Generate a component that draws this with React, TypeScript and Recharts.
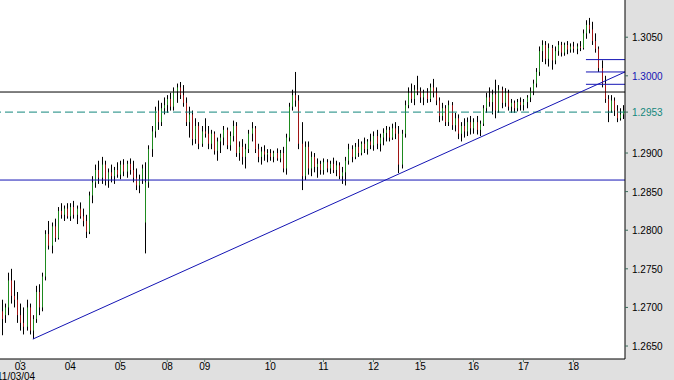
import * as React from 'react';
import { ComposedChart, Bar, XAxis, YAxis, CartesianGrid, ReferenceLine } from 'recharts';

// hourly-ish bars, one array per trading day: [open, high, low, close]
const day02 = [
  [1.2695, 1.2710, 1.2664, 1.2685], [1.2690, 1.2705, 1.2680, 1.2700], [1.2700, 1.2745, 1.2690, 1.2735],
  [1.2735, 1.2750, 1.2705, 1.2715], [1.2715, 1.2735, 1.2700, 1.2710], [1.2710, 1.2720, 1.2680, 1.2690],
];
const day03 = [
  [1.2690, 1.2705, 1.2670, 1.2680], [1.2680, 1.2700, 1.2665, 1.2675], [1.2675, 1.2710, 1.2670, 1.2700],
  [1.2700, 1.2705, 1.2665, 1.2670], [1.2670, 1.2690, 1.2659, 1.2685], [1.2685, 1.2728, 1.2680, 1.2720],
  [1.2720, 1.2730, 1.2690, 1.2700], [1.2700, 1.2745, 1.2695, 1.2740], [1.2740, 1.2800, 1.2735, 1.2795],
  [1.2795, 1.2812, 1.2775, 1.2780], [1.2780, 1.2810, 1.2770, 1.2805], [1.2805, 1.2815, 1.2785, 1.2790],
  [1.2790, 1.2830, 1.2788, 1.2825], [1.2825, 1.2835, 1.2815, 1.2820], [1.2820, 1.2832, 1.2812, 1.2828],
  [1.2828, 1.2835, 1.2815, 1.2818],
];
const day04 = [
  [1.2818, 1.2835, 1.2812, 1.2830], [1.2830, 1.2838, 1.2815, 1.2820], [1.2820, 1.2832, 1.2808, 1.2828],
  [1.2828, 1.2836, 1.2815, 1.2818], [1.2818, 1.2828, 1.2805, 1.2812], [1.2812, 1.2820, 1.2790, 1.2798],
  [1.2798, 1.2850, 1.2795, 1.2845], [1.2845, 1.2870, 1.2835, 1.2862], [1.2862, 1.2885, 1.2855, 1.2878],
  [1.2878, 1.2890, 1.2860, 1.2868], [1.2868, 1.2895, 1.2860, 1.2885], [1.2885, 1.2890, 1.2858, 1.2865],
  [1.2865, 1.2880, 1.2855, 1.2875], [1.2875, 1.2885, 1.2862, 1.2870], [1.2870, 1.2882, 1.2860, 1.2878],
  [1.2878, 1.2888, 1.2868, 1.2872],
];
const day05 = [
  [1.2872, 1.2890, 1.2866, 1.2885], [1.2885, 1.2892, 1.2870, 1.2876], [1.2876, 1.2890, 1.2868, 1.2886],
  [1.2886, 1.2893, 1.2872, 1.2878], [1.2878, 1.2890, 1.2862, 1.2868], [1.2868, 1.2880, 1.2852, 1.2858],
  [1.2858, 1.2872, 1.2848, 1.2866], [1.2866, 1.2885, 1.2860, 1.2880], [1.2810, 1.2888, 1.2770, 1.2862],
  [1.2862, 1.2910, 1.2855, 1.2905], [1.2905, 1.2935, 1.2895, 1.2928], [1.2928, 1.2960, 1.2920, 1.2955],
  [1.2955, 1.2968, 1.2930, 1.2940], [1.2940, 1.2965, 1.2935, 1.2958], [1.2958, 1.2972, 1.2950, 1.2962],
];
const day08 = [
  [1.2962, 1.2975, 1.2952, 1.2970], [1.2970, 1.2978, 1.2955, 1.2960], [1.2960, 1.2985, 1.2955, 1.2980],
  [1.2980, 1.2990, 1.2965, 1.2985], [1.2985, 1.2992, 1.2970, 1.2975], [1.2975, 1.2988, 1.2960, 1.2965],
  [1.2965, 1.2972, 1.2935, 1.2940], [1.2940, 1.2960, 1.2920, 1.2950], [1.2950, 1.2955, 1.2910, 1.2918],
  [1.2918, 1.2945, 1.2912, 1.2935], [1.2935, 1.2940, 1.2905, 1.2912], [1.2912, 1.2935, 1.2908, 1.2928],
];
const day09 = [
  [1.2928, 1.2945, 1.2920, 1.2925], [1.2925, 1.2935, 1.2905, 1.2912], [1.2912, 1.2930, 1.2905, 1.2925],
  [1.2925, 1.2928, 1.2898, 1.2903], [1.2903, 1.2920, 1.2890, 1.2915], [1.2915, 1.2925, 1.2900, 1.2920],
  [1.2920, 1.2935, 1.2910, 1.2930], [1.2930, 1.2933, 1.2905, 1.2910], [1.2910, 1.2928, 1.2903, 1.2922],
  [1.2922, 1.2942, 1.2915, 1.2935], [1.2935, 1.2940, 1.2895, 1.2900], [1.2900, 1.2915, 1.2890, 1.2908],
  [1.2908, 1.2918, 1.2885, 1.2895], [1.2895, 1.2912, 1.2880, 1.2905], [1.2905, 1.2930, 1.2900, 1.2925],
  [1.2925, 1.2940, 1.2915, 1.2932], [1.2932, 1.2935, 1.2900, 1.2905], [1.2905, 1.2912, 1.2888, 1.2895],
  [1.2895, 1.2908, 1.2885, 1.2902], [1.2902, 1.2910, 1.2890, 1.2898], [1.2898, 1.2905, 1.2888, 1.2900],
];
const day10 = [
  [1.2900, 1.2905, 1.2890, 1.2895], [1.2895, 1.2903, 1.2888, 1.2900], [1.2900, 1.2906, 1.2890, 1.2893],
  [1.2893, 1.2904, 1.2888, 1.2900], [1.2900, 1.2908, 1.2875, 1.2880], [1.2880, 1.2925, 1.2872, 1.2920],
  [1.2920, 1.2965, 1.2915, 1.2960], [1.2960, 1.2982, 1.2955, 1.2975], [1.2975, 1.3005, 1.2960, 1.2968],
  [1.2968, 1.2975, 1.2905, 1.2912], [1.2912, 1.2940, 1.2852, 1.2870], [1.2870, 1.2915, 1.2865, 1.2908],
  [1.2908, 1.2915, 1.2872, 1.2880], [1.2880, 1.2902, 1.2870, 1.2895], [1.2895, 1.2900, 1.2875, 1.2882],
  [1.2882, 1.2893, 1.2868, 1.2886], [1.2886, 1.2890, 1.2872, 1.2878],
];
const day11 = [
  [1.2878, 1.2893, 1.2872, 1.2888], [1.2888, 1.2892, 1.2875, 1.2880], [1.2880, 1.2890, 1.2873, 1.2886],
  [1.2886, 1.2894, 1.2874, 1.2878], [1.2878, 1.2890, 1.2870, 1.2884], [1.2884, 1.2888, 1.2866, 1.2870],
  [1.2870, 1.2882, 1.2860, 1.2875], [1.2875, 1.2895, 1.2858, 1.2890], [1.2890, 1.2912, 1.2885, 1.2905],
  [1.2905, 1.2910, 1.2888, 1.2895], [1.2895, 1.2913, 1.2892, 1.2908], [1.2908, 1.2918, 1.2895, 1.2900],
  [1.2900, 1.2915, 1.2897, 1.2912], [1.2912, 1.2920, 1.2900, 1.2905], [1.2905, 1.2918, 1.2898, 1.2915],
  [1.2915, 1.2925, 1.2905, 1.2910],
];
const day12 = [
  [1.2910, 1.2928, 1.2903, 1.2922], [1.2922, 1.2930, 1.2905, 1.2912], [1.2912, 1.2925, 1.2902, 1.2920],
  [1.2920, 1.2932, 1.2910, 1.2926], [1.2926, 1.2935, 1.2915, 1.2930], [1.2930, 1.2934, 1.2915, 1.2920],
  [1.2920, 1.2938, 1.2917, 1.2932], [1.2932, 1.2940, 1.2918, 1.2925], [1.2925, 1.2935, 1.2874, 1.2885],
  [1.2885, 1.2930, 1.2880, 1.2925], [1.2925, 1.2968, 1.2920, 1.2962], [1.2962, 1.2985, 1.2958, 1.2978],
  [1.2978, 1.2990, 1.2965, 1.2970], [1.2970, 1.2988, 1.2962, 1.2982], [1.2982, 1.3000, 1.2975, 1.2980],
];
const day15 = [
  [1.2980, 1.2985, 1.2965, 1.2972], [1.2972, 1.2982, 1.2962, 1.2978], [1.2978, 1.2984, 1.2965, 1.2970],
  [1.2970, 1.2990, 1.2966, 1.2985], [1.2985, 1.2996, 1.2972, 1.2978], [1.2978, 1.2985, 1.2962, 1.2968],
  [1.2968, 1.2972, 1.2940, 1.2948], [1.2948, 1.2965, 1.2942, 1.2958], [1.2958, 1.2962, 1.2935, 1.2940],
  [1.2940, 1.2968, 1.2935, 1.2962], [1.2962, 1.2966, 1.2930, 1.2936], [1.2936, 1.2952, 1.2928, 1.2945],
  [1.2945, 1.2950, 1.2918, 1.2925], [1.2925, 1.2940, 1.2915, 1.2935], [1.2935, 1.2945, 1.2920, 1.2928],
  [1.2928, 1.2946, 1.2922, 1.2940], [1.2940, 1.2948, 1.2924, 1.2932],
];
const day16 = [
  [1.2932, 1.2945, 1.2925, 1.2940], [1.2940, 1.2948, 1.2924, 1.2930], [1.2930, 1.2942, 1.2922, 1.2938],
  [1.2938, 1.2962, 1.2935, 1.2958], [1.2958, 1.2978, 1.2952, 1.2972], [1.2972, 1.2985, 1.2960, 1.2966],
  [1.2966, 1.2982, 1.2950, 1.2976], [1.2976, 1.2995, 1.2945, 1.2955], [1.2955, 1.2988, 1.2952, 1.2982],
  [1.2982, 1.2986, 1.2958, 1.2965], [1.2965, 1.2984, 1.2960, 1.2978], [1.2978, 1.2982, 1.2955, 1.2960],
  [1.2960, 1.2970, 1.2952, 1.2965], [1.2965, 1.2968, 1.2952, 1.2958], [1.2958, 1.2970, 1.2954, 1.2966],
  [1.2966, 1.2972, 1.2955, 1.2962],
];
const day17 = [
  [1.2962, 1.2970, 1.2955, 1.2966], [1.2966, 1.2975, 1.2958, 1.2972], [1.2972, 1.2985, 1.2966, 1.2980],
  [1.2980, 1.2995, 1.2975, 1.2990], [1.2990, 1.3010, 1.2985, 1.3005], [1.3005, 1.3038, 1.3000, 1.3032],
  [1.3032, 1.3046, 1.3018, 1.3040], [1.3040, 1.3045, 1.3015, 1.3022], [1.3022, 1.3042, 1.3012, 1.3036],
  [1.3036, 1.3040, 1.3008, 1.3020], [1.3020, 1.3038, 1.3015, 1.3032], [1.3032, 1.3045, 1.3026, 1.3040],
  [1.3040, 1.3044, 1.3025, 1.3030], [1.3030, 1.3043, 1.3026, 1.3040], [1.3040, 1.3045, 1.3028, 1.3034],
  [1.3034, 1.3042, 1.3030, 1.3038],
];
const day18 = [
  [1.3038, 1.3044, 1.3030, 1.3035], [1.3035, 1.3042, 1.3028, 1.3038], [1.3038, 1.3045, 1.3032, 1.3036],
  [1.3036, 1.3060, 1.3034, 1.3055], [1.3055, 1.3072, 1.3048, 1.3066], [1.3066, 1.3075, 1.3055, 1.3060],
  [1.3060, 1.3070, 1.3040, 1.3045], [1.3045, 1.3055, 1.3030, 1.3035], [1.3035, 1.3038, 1.3005, 1.3010],
  [1.3010, 1.3020, 1.2985, 1.2990], [1.2990, 1.3000, 1.2965, 1.2970], [1.2970, 1.2975, 1.2940, 1.2955],
  [1.2955, 1.2975, 1.2952, 1.2968], [1.2968, 1.2972, 1.2948, 1.2955], [1.2955, 1.2962, 1.2940, 1.2945],
  [1.2945, 1.2958, 1.2942, 1.2950], [1.2950, 1.2962, 1.2944, 1.2955],
];

const days = [day02, day03, day04, day05, day08, day09, day10, day11, day12, day15, day16, day17, day18];
const dayLabels = ['', '03', '04', '05', '08', '09', '10', '11', '12', '15', '16', '17', '18'];

const yTicks = [1.265, 1.27, 1.275, 1.28, 1.285, 1.29, 1.2953, 1.3, 1.305];
const lastPrice = 1.2953;
const resistance = 1.2979;
const support = 1.2865;
const trendStart = { bar: 10, price: 1.2659 };
const trendEnd = { price: 1.3005 };
const shortLevels = [1.3021, 1.3005, 1.2989];

const data: any[] = [];
const tickIdx: number[] = [];
const tickText: Record<number, string> = {};
days.forEach((bars, d) => {
  if (dayLabels[d]) {
    tickIdx.push(data.length);
    tickText[data.length] = dayLabels[d];
  }
  bars.forEach(([open, high, low, close]) => {
    data.push({ i: data.length, open, high, low, close });
  });
});
const lastIdx = data.length - 1;

const GREEN = '#1e8a1e';
const RED = '#a01414';
const TEAL = '#13877c';
const BLUE = '#1414b4';
const FONT = '"Liberation Sans", Arial, sans-serif';

const OhlcShape = (props: any) => {
  const { x, y, width, height, payload } = props;
  if (!payload) return null;
  const top = Math.min(y, y + height);
  const h = Math.abs(height);
  const cx = Math.round(x + width / 2);
  const span = payload.high - payload.low || 1;
  const py = (v: number) => top + ((payload.high - v) / span) * h;
  const yo = py(payload.open);
  const yc = py(payload.close);
  const up = payload.close >= payload.open;
  return (
    <g>
      <rect x={cx} y={top} width={1} height={Math.max(h, 1)} fill="#000" />
      <rect x={cx} y={Math.min(yo, yc)} width={1} height={Math.max(Math.abs(yc - yo), 1)} fill={up ? GREEN : RED} />
    </g>
  );
};

const YTick = ({ x, y, payload }: any) => {
  const v = payload.value;
  let fill = '#000';
  if (v === lastPrice) fill = TEAL;
  else if (v === 1.3) fill = BLUE;
  return (
    <text x={x} y={y} dy={4} fill={fill} fontSize={10} fontFamily={FONT} textAnchor="start">
      {v.toFixed(4)}
    </text>
  );
};

const XTick = ({ x, y, payload }: any) => (
  <text x={x} y={y} dy={6} fill="#000" fontSize={10} fontFamily={FONT} textAnchor="middle">
    {tickText[payload.value]}
  </text>
);

export default function App() {
  return (
    <div style={{ position: 'relative', width: 674, height: 380, background: '#e0e0e0', overflow: 'hidden' }}>
      <style>{'body{margin:0}'}</style>
      <ComposedChart width={674} height={380} data={data} margin={{ top: 0, right: 0, left: 0, bottom: 0 }}>
        <CartesianGrid fill="#fff" horizontal={false} vertical={false} stroke="none" />
        <XAxis
          dataKey="i"
          type="number"
          domain={[-0.5, lastIdx + 0.5]}
          ticks={tickIdx}
          interval={0}
          height={21}
          tick={<XTick />}
          tickSize={3}
          tickLine={{ stroke: '#5a7a6a' }}
          axisLine={{ stroke: '#000' }}
          allowDataOverflow
        />
        <YAxis
          orientation="right"
          type="number"
          domain={[1.26332, 1.30982]}
          ticks={yTicks}
          interval={0}
          width={49}
          tick={<YTick />}
          tickSize={3}
          tickMargin={4}
          tickLine={{ stroke: '#3a6a5a' }}
          axisLine={{ stroke: '#000' }}
          allowDataOverflow
        />
        <ReferenceLine y={support} stroke={BLUE} strokeWidth={1} />
        <ReferenceLine y={resistance} stroke="#000" strokeWidth={1} />
        <ReferenceLine y={lastPrice} stroke={TEAL} strokeDasharray="8 4" strokeWidth={1} />
        <ReferenceLine
          segment={[{ x: trendStart.bar, y: trendStart.price }, { x: lastIdx + 0.5, y: trendEnd.price }]}
          stroke={BLUE}
          strokeWidth={1}
        />
        {shortLevels.map((lv) => (
          <ReferenceLine key={lv} segment={[{ x: 187, y: lv }, { x: lastIdx + 0.5, y: lv }]} stroke={BLUE} strokeWidth={1} />
        ))}
        <Bar
          dataKey={(d: any) => [d.low, d.high]}
          barSize={3}
          shape={<OhlcShape />}
          isAnimationActive={false}
        />
      </ComposedChart>
      <div style={{ position: 'absolute', left: -3, top: 372, fontSize: 10, fontFamily: FONT, color: '#000', lineHeight: '10px' }}>
        11/03/04
      </div>
    </div>
  );
}
